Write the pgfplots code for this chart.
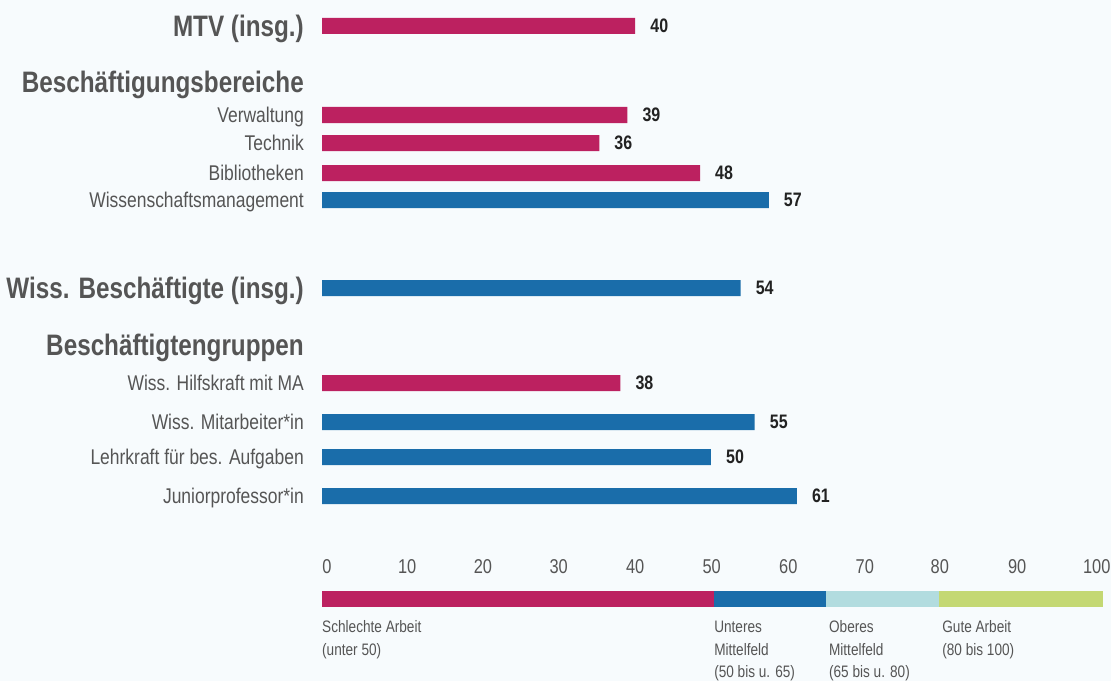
\documentclass[border=0pt]{standalone}
\usepackage{pgfplots}
\pgfplotsset{compat=1.18}
\usepackage{fontspec}
\setmainfont{Liberation Sans}[FakeStretch=0.82]
\definecolor{mag}{RGB}{188,33,96}
\definecolor{blu}{RGB}{26,109,170}
\definecolor{lblu}{RGB}{178,220,223}
\definecolor{grn}{RGB}{196,216,115}
\definecolor{bg}{RGB}{247,251,253}
\definecolor{txt}{RGB}{85,85,85}
\definecolor{val}{RGB}{34,34,34}
\newcommand{\hdr}[1]{\fontsize{29.6}{30}\selectfont\bfseries\raisebox{-3pt}{#1}}
\begin{document}
\begin{tikzpicture}
\begin{axis}[
  set layers,
  scale only axis, width=781pt, height=681pt,
  xmin=0, xmax=100, ymin=0, ymax=681, y dir=reverse,
  axis line style={draw=none}, major tick length=0pt,
  xtick=\empty,
  ytick={26,82,115,143,173,200,288,345,383,422,457,496},
  yticklabels={\hdr{MTV (insg.)},\hdr{Beschäftigungsbereiche},Verwaltung,Technik,Bibliotheken,Wissenschaftsmanagement,\hdr{Wiss. Beschäftigte (insg.)},\hdr{Beschäftigtengruppen},Wiss. Hilfskraft mit MA,Wiss. Mitarbeiter*in,Lehrkraft für bes. Aufgaben,Juniorprofessor*in},
  yticklabel style={anchor=base east, inner sep=0pt, xshift=-18pt, yshift=-7.5pt, font=\fontsize{21.3}{22}\selectfont, text=txt},
  clip=false,
  bar width=16pt,
]
\begin{pgfonlayer}{axis background}
\fill[bg] (axis cs:-41.23,0) rectangle (axis cs:101.02,681);
\end{pgfonlayer}
\addplot[xbar, bar shift=0pt, fill=mag, draw=none,
  nodes near coords, point meta=explicit symbolic,
  nodes near coords style={anchor=west, inner sep=0pt, xshift=15pt, font=\fontsize{19.5}{20}\selectfont\bfseries, text=val}]
  coordinates {(40.1,26) [40] (39.1,115) [39] (35.5,143) [36] (48.4,173) [48] (38.2,383) [38]};
\addplot[xbar, bar shift=0pt, fill=blu, draw=none,
  nodes near coords, point meta=explicit symbolic,
  nodes near coords style={anchor=west, inner sep=0pt, xshift=15pt, font=\fontsize{19.5}{20}\selectfont\bfseries, text=val}]
  coordinates {(57.2,200) [57] (53.6,288) [54] (55.4,422) [55] (49.8,457) [50] (60.8,496) [61]};
% quality scale
\addplot[fill=mag, draw=none] coordinates {(0,591) (50.2,591) (50.2,607) (0,607)} -- cycle;
\addplot[fill=blu, draw=none] coordinates {(50.2,591) (64.5,591) (64.5,607) (50.2,607)} -- cycle;
\addplot[fill=lblu, draw=none] coordinates {(64.5,591) (79.0,591) (79.0,607) (64.5,607)} -- cycle;
\addplot[fill=grn, draw=none] coordinates {(79.0,591) (100,591) (100,607) (79.0,607)} -- cycle;
\begin{scope}[every node/.style={anchor=base, inner sep=0pt, font=\fontsize{20}{21}\selectfont, text=txt}]
\node at (axis cs:0.64,573) {0};
\node at (axis cs:10.9,573) {10};
\node at (axis cs:20.6,573) {20};
\node at (axis cs:30.3,573) {30};
\node at (axis cs:40.1,573) {40};
\node at (axis cs:49.9,573) {50};
\node at (axis cs:59.7,573) {60};
\node at (axis cs:69.5,573) {70};
\node at (axis cs:79.1,573) {80};
\node at (axis cs:89.0,573) {90};
\node at (axis cs:99.2,573) {100};
\end{scope}
\begin{scope}[every node/.style={anchor=base west, inner sep=0pt, font=\fontsize{16.6}{17}\selectfont, text=txt}]
\node at (axis cs:0,632) {Schlechte Arbeit};
\node at (axis cs:0,655) {(unter 50)};
\node at (axis cs:50.2,632) {Unteres};
\node at (axis cs:50.2,655) {Mittelfeld};
\node at (axis cs:50.2,677) {(50 bis u. 65)};
\node at (axis cs:64.9,632) {Oberes};
\node at (axis cs:64.9,655) {Mittelfeld};
\node at (axis cs:64.9,677) {(65 bis u. 80)};
\node at (axis cs:79.4,632) {Gute Arbeit};
\node at (axis cs:79.4,655) {(80 bis 100)};
\end{scope}
\end{axis}
\end{tikzpicture}
\end{document}
